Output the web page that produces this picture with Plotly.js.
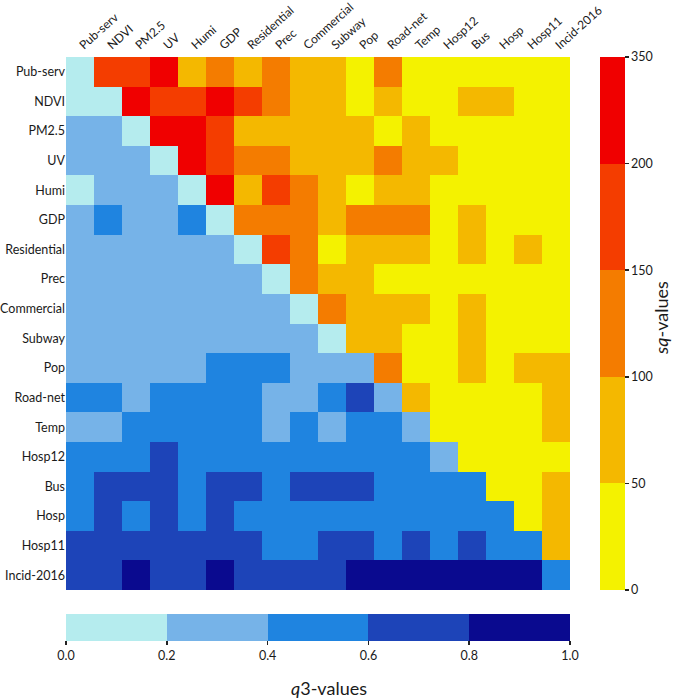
<!DOCTYPE html>
<html>
<head>
<meta charset="utf-8">
<script src="https://cdn.plot.ly/plotly-3.0.1.min.js"></script>
<style>html,body{margin:0;padding:0;background:#fff;}#chart{width:685px;height:699px;}</style>
</head>
<body>
<div id="chart"></div>
<script>
// Variable names (rows top to bottom, columns left to right)
const labels = ["Pub-serv","NDVI","PM2.5","UV","Humi","GDP","Residential","Prec","Commercial","Subway","Pop","Road-net","Temp","Hosp12","Bus","Hosp","Hosp11","Incid-2016"];

// sq-values, upper triangle: row i holds columns i+1 .. 17
const sqUpper = [
  [182,171,236,78,118,64,127,71,58,31,112,22,18,27,14,20,9],
  [248,188,176,227,163,133,82,69,42,56,26,33,61,57,19,12],
  [264,219,191,88,93,76,81,66,38,59,29,24,35,16,11],
  [243,168,141,122,72,86,63,108,54,52,37,28,21,17],
  [302,91,172,136,79,44,68,62,23,30,25,15,10],
  [114,146,103,97,121,131,109,34,73,27,18,13],
  [186,139,46,84,77,67,32,65,21,53,14],
  [128,74,83,39,28,22,36,17,12,8],
  [117,89,62,71,33,58,24,19,11],
  [66,81,41,29,63,25,16,13],
  [124,37,21,77,28,55,69],
  [57,34,22,18,26,64],
  [31,24,15,29,72],
  [38,27,44,33],
  [36,23,58],
  [45,61],
  [79],
  []
];

// q3-values, lower triangle incl. diagonal: row i holds columns 0 .. i
const q3Lower = [
  [0.12],
  [0.15,0.08],
  [0.31,0.27,0.11],
  [0.33,0.25,0.36,0.09],
  [0.18,0.29,0.34,0.22,0.13],
  [0.38,0.45,0.26,0.32,0.43,0.10],
  [0.24,0.30,0.35,0.28,0.37,0.39,0.07],
  [0.21,0.26,0.33,0.29,0.36,0.23,0.31,0.06],
  [0.27,0.34,0.22,0.38,0.25,0.31,0.36,0.29,0.14],
  [0.32,0.28,0.37,0.24,0.35,0.39,0.26,0.33,0.30,0.17],
  [0.36,0.33,0.29,0.38,0.31,0.47,0.52,0.44,0.35,0.27,0.24],
  [0.46,0.41,0.37,0.53,0.49,0.56,0.44,0.34,0.39,0.48,0.63,0.28],
  [0.35,0.38,0.42,0.51,0.47,0.55,0.43,0.39,0.45,0.36,0.52,0.48,0.32],
  [0.54,0.49,0.57,0.64,0.45,0.51,0.58,0.43,0.47,0.55,0.42,0.56,0.53,0.34],
  [0.57,0.66,0.71,0.62,0.54,0.68,0.65,0.59,0.73,0.67,0.61,0.58,0.46,0.52,0.41],
  [0.48,0.63,0.56,0.69,0.53,0.64,0.59,0.44,0.57,0.51,0.55,0.49,0.58,0.46,0.53,0.42],
  [0.72,0.68,0.75,0.64,0.77,0.70,0.63,0.57,0.52,0.66,0.74,0.59,0.61,0.55,0.67,0.58,0.45],
  [0.74,0.78,0.86,0.71,0.76,0.83,0.69,0.73,0.77,0.79,0.91,0.88,0.93,0.85,0.90,0.87,0.84,0.48]
];

// Class breaks and colours
const sqBreaks = [0,50,100,150,200,350];
const sqColors = ["#f4f200","#f4b800","#f47c00","#f43d00","#f00000"];
const q3Breaks = [0,0.2,0.4,0.6,0.8,1.0];
const q3Colors = ["#b5ecee","#76b3e8","#1f84e0","#1d44b8","#0a0a8f"];

function discreteScale(colors){
  const n = colors.length, cs = [];
  colors.forEach((c,i)=>{ cs.push([i/n,c]); cs.push([(i+1)/n,c]); });
  return cs;
}
// map an sq value onto equal-width class index space (matches the banded colour bar)
function sqIndex(v){
  for(let k=0;k<sqBreaks.length-1;k++){
    if(v < sqBreaks[k+1] || k===sqBreaks.length-2){
      return k + (v - sqBreaks[k])/(sqBreaks[k+1]-sqBreaks[k]);
    }
  }
}

const n = labels.length;
const zSq = [], tSq = [], zQ = [];
for(let i=0;i<n;i++){
  const rs = [], rt = [], rq = [];
  for(let j=0;j<n;j++){
    if(j>i){ const v = sqUpper[i][j-i-1]; rs.push(sqIndex(v)); rt.push(v); rq.push(null); }
    else { rs.push(null); rt.push(null); rq.push(q3Lower[i][j]); }
  }
  zSq.push(rs); tSq.push(rt); zQ.push(rq);
}

const fam = "Lato, 'Open Sans', sans-serif";
const font = {family:fam, size:12.5, color:"#1a1a1a"};
const xfont = {family:fam, size:12, color:"#1a1a1a"};

const traceQ = {
  type:"heatmap", x:labels, y:labels, z:zQ,
  colorscale: discreteScale(q3Colors), zmin:0, zmax:1,
  hovertemplate:"%{y} / %{x}<br>q3 = %{z:.2f}<extra></extra>",
  colorbar:{
    orientation:"h", x:0.5, xanchor:"center", y:-0.045, yanchor:"top",
    len:1, lenmode:"fraction", thickness:27, xpad:0, ypad:0,
    outlinewidth:0, ticks:"outside", ticklen:4, tickwidth:1.5, tickcolor:"#222",
    tickvals:q3Breaks, ticktext:q3Breaks.map(v=>v.toFixed(1)),
    tickfont:{family:fam, size:12.5, color:"#1a1a1a"},
    title:{text:""}
  }
};
const traceS = {
  type:"heatmap", x:labels, y:labels, z:zSq, text:tSq,
  colorscale: discreteScale(sqColors), zmin:0, zmax:5,
  hovertemplate:"%{y} / %{x}<br>sq = %{text}<extra></extra>",
  colorbar:{
    orientation:"v", x:1.06, xanchor:"left", y:0.5, yanchor:"middle",
    len:1, lenmode:"fraction", thickness:25, xpad:0, ypad:0,
    outlinewidth:0, ticks:"outside", ticklen:4, tickwidth:1.5, tickcolor:"#222",
    tickvals:[0,1,2,3,4,5], ticktext:sqBreaks.map(String),
    tickfont:{family:fam, size:12.5, color:"#1a1a1a"},
    title:{text:""}
  }
};

const layout = {
  width:685, height:699,
  margin:{l:66, r:115, t:57, b:109},
  paper_bgcolor:"#fff", plot_bgcolor:"#fff",
  font: font,
  xaxis:{side:"top", type:"category", tickangle:-42, ticks:"", ticklabelstandoff:2, showgrid:false, zeroline:false, showline:false, tickfont:xfont, fixedrange:true},
  yaxis:{type:"category", autorange:"reversed", ticks:"", showgrid:false, zeroline:false, showline:false, tickfont:font, fixedrange:true},
  showlegend:false,
  annotations:[
    {text:"<i>q</i>3-values", xref:"paper", yref:"paper", x:0.522, y:-0.184, xanchor:"center", yanchor:"middle",
     showarrow:false, font:{family:fam, size:18, color:"#1a1a1a"}},
    {text:"<i>sq</i>-values", xref:"paper", yref:"paper", x:1.18, y:0.51, xanchor:"center", yanchor:"middle",
     textangle:-90, showarrow:false, font:{family:fam, size:18, color:"#1a1a1a"}}
  ]
};

Plotly.newPlot("chart", [traceQ, traceS], layout, {displayModeBar:false, staticPlot:true});
</script>
</body>
</html>
